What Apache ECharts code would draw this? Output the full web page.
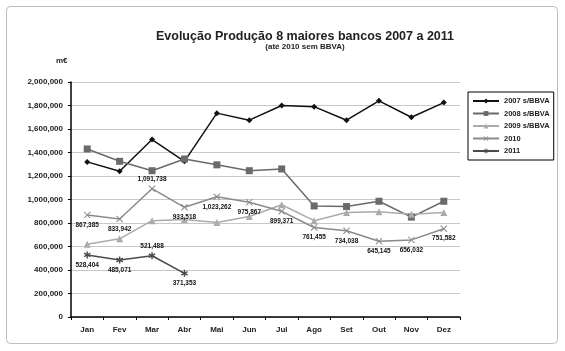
<!DOCTYPE html>
<html>
<head>
<meta charset="utf-8">
<script src="https://cdn.jsdelivr.net/npm/echarts@6/dist/echarts.min.js"></script>
<style>
  html, body { margin: 0; padding: 0; background: #ffffff; }
  #chart { width: 565px; height: 351px; }
</style>
</head>
<body>
<div id="chart"></div>
<script>
// Months on the category axis
const months = ['Jan', 'Fev', 'Mar', 'Abr', 'Mai', 'Jun', 'Jul', 'Ago', 'Set', 'Out', 'Nov', 'Dez'];

// Monthly production (m€) per year
const prod2007 = [1320000, 1240000, 1510000, 1325000, 1735000, 1675000, 1800000, 1790000, 1675000, 1840000, 1700000, 1825000];
const prod2008 = [1430000, 1325000, 1245000, 1345000, 1295000, 1245000, 1260000, 945000, 940000, 985000, 850000, 985000];
const prod2009 = [620000, 665000, 820000, 830000, 805000, 855000, 955000, 820000, 890000, 895000, 875000, 890000];
const prod2010 = [867385, 833942, 1091738, 933518, 1023262, 975867, 899371, 761455, 734038, 645145, 656032, 751582];
const prod2011 = [528404, 485071, 521488, 371353];

const seriesNames = ['2007 s/BBVA', '2008 s/BBVA', '2009 s/BBVA', '2010', '2011'];

const fmt = v => Math.round(v).toString().replace(/\B(?=(\d{3})+(?!\d))/g, ',');

const FONT = 'Liberation Sans';
const crossPath = 'path://M0,1L1,0L5,4L9,0L10,1L6,5L10,9L9,10L5,6L1,10L0,9L4,5Z';
const starPath = 'path://M4,0L6,0L6,3.3L8.9,1.6L9.9,3.3L7,5L9.9,6.7L8.9,8.4L6,6.7L6,10L4,10L4,6.7L1.1,8.4L0.1,6.7L3,5L0.1,3.3L1.1,1.6L4,3.3Z';

const labelStyle = {
  show: true,
  fontFamily: FONT,
  fontSize: 6.5,
  fontWeight: 'bold',
  color: '#111',
  formatter: p => fmt(p.value)
};

// Label placement per point
const pos2010 = ['bottom', 'bottom', 'top', 'bottom', 'bottom', 'bottom', 'bottom', 'bottom', 'bottom', 'bottom', 'bottom', 'bottom'];
const pos2011 = ['bottom', 'bottom', 'top', 'bottom'];

function labelled(values, positions) {
  return values.map((v, i) => ({
    value: v,
    label: { position: positions[i], distance: 3 }
  }));
}

const chart = echarts.init(document.getElementById('chart'), null, { renderer: 'canvas' });

chart.setOption({
  animation: false,
  backgroundColor: '#ffffff',
  title: {
    text: 'Evolução Produção 8 maiores bancos 2007 a 2011',
    subtext: '(até 2010 sem BBVA)',
    left: 300,
    top: 25,
    textAlign: 'center',
    itemGap: 0,
    textStyle: { fontFamily: FONT, fontSize: 12.5, fontWeight: 'bold', color: '#222' },
    subtextStyle: { fontFamily: FONT, fontSize: 8, fontWeight: 'bold', color: '#222' }
  },
  graphic: [
    {
      type: 'rect',
      shape: { x: 6.5, y: 6.5, width: 551, height: 337, r: 4 },
      style: { fill: 'none', stroke: '#bdbdbd', lineWidth: 1 },
      silent: true
    },
    {
      type: 'text',
      left: 56,
      top: 57,
      style: { text: 'm€', fontFamily: FONT, fontSize: 8, fontWeight: 'bold', fill: '#222' }
    }
  ],
  legend: {
    orient: 'vertical',
    left: 468,
    top: 92,
    data: seriesNames,
    itemWidth: 26,
    itemHeight: 6,
    itemGap: 4.5,
    padding: [5, 4, 5, 4],
    borderColor: '#000',
    borderWidth: 1,
    textStyle: { fontFamily: FONT, fontSize: 7.5, fontWeight: 'bold', color: '#222' }
  },
  grid: { left: 71, right: 105, top: 82, bottom: 34, containLabel: false },
  xAxis: {
    type: 'category',
    data: months,
    boundaryGap: true,
    axisLine: { lineStyle: { color: '#000', width: 1.5 } },
    axisTick: { show: true, length: 3, lineStyle: { color: '#000' } },
    axisLabel: { fontFamily: FONT, fontSize: 8, fontWeight: 'bold', color: '#222', margin: 9 },
    splitLine: { show: false }
  },
  yAxis: {
    type: 'value',
    min: 0,
    max: 2000000,
    interval: 200000,
    axisLine: { show: true, lineStyle: { color: '#000', width: 1.5 } },
    axisTick: { show: true, length: 3, lineStyle: { color: '#000' } },
    axisLabel: { fontFamily: FONT, fontSize: 8, fontWeight: 'bold', color: '#222', margin: 8, formatter: v => fmt(v) },
    splitLine: { show: true, lineStyle: { color: '#c8c8c8', width: 1 } }
  },
  series: [
    {
      name: seriesNames[0],
      type: 'line',
      data: prod2007,
      symbol: 'diamond',
      symbolSize: 6,
      lineStyle: { color: '#111', width: 1.5 },
      itemStyle: { color: '#111' }
    },
    {
      name: seriesNames[1],
      type: 'line',
      data: prod2008,
      symbol: 'rect',
      symbolSize: 7,
      lineStyle: { color: '#6a6a6a', width: 1.5 },
      itemStyle: { color: '#6a6a6a' }
    },
    {
      name: seriesNames[2],
      type: 'line',
      data: prod2009,
      symbol: 'triangle',
      symbolSize: 7,
      lineStyle: { color: '#ababab', width: 1.5 },
      itemStyle: { color: '#ababab' }
    },
    {
      name: seriesNames[3],
      type: 'line',
      data: labelled(prod2010, pos2010),
      symbol: crossPath,
      symbolSize: 7,
      lineStyle: { color: '#8a8a8a', width: 1.5 },
      itemStyle: { color: '#8a8a8a' },
      label: labelStyle
    },
    {
      name: seriesNames[4],
      type: 'line',
      data: labelled(prod2011, pos2011),
      symbol: starPath,
      symbolSize: 7,
      lineStyle: { color: '#4a4a4a', width: 1.5 },
      itemStyle: { color: '#4a4a4a' },
      label: labelStyle
    }
  ]
});
</script>
</body>
</html>
